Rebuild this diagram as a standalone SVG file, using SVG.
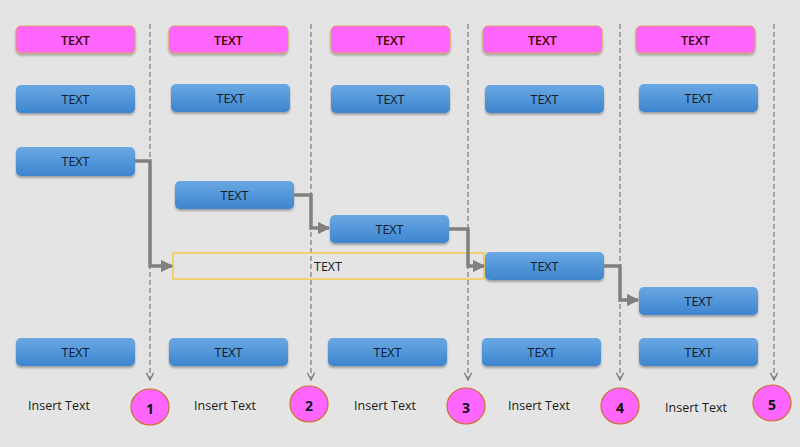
<svg xmlns="http://www.w3.org/2000/svg" width="800" height="447" viewBox="0 0 800 447">
<defs>
<linearGradient id="blue" x1="0" y1="0" x2="0" y2="1">
<stop offset="0" stop-color="#6aa8e2"/>
<stop offset="1" stop-color="#3d85cf"/>
</linearGradient>
<filter id="sh" x="-10%" y="-20%" width="120%" height="160%">
<feDropShadow dx="0" dy="2" stdDeviation="1.2" flood-color="#000" flood-opacity="0.3"/>
</filter>
<marker id="arr" viewBox="0 0 10 10" refX="9" refY="5" markerWidth="3.6" markerHeight="3.6" orient="auto" markerUnits="strokeWidth">
<path d="M0,0 L10,5 L0,10 z" fill="#808080"/>
</marker>
<marker id="darr" viewBox="0 0 10 10" refX="9" refY="5" markerWidth="9" markerHeight="9" orient="auto" markerUnits="userSpaceOnUse">
<path d="M1,1 L9,5 L1,9" fill="none" stroke="#808080" stroke-width="1.6"/>
</marker>
<style>
.b rect{fill:url(#blue);filter:url(#sh)}
.m rect{fill:#ff66ff;stroke:#d9a060;stroke-width:1;filter:url(#sh)}
text{font-family:"Open Sans","Liberation Sans",sans-serif;text-anchor:middle;dominant-baseline:central}
.b text{font-size:12.5px;fill:#0e1a2c}
.m text{font-size:12.5px;fill:#3a0000;font-weight:600}
.lbl{font-size:12.5px;fill:#1a1a1a}
.c ellipse{fill:#ff66ff;stroke:#c8702c;stroke-width:1.2}
.c text{font-size:14px;font-weight:bold;fill:#111}
.dash{stroke:#8a8a8a;stroke-width:1.4;stroke-dasharray:5,3;fill:none}
.con{stroke:#808080;stroke-width:3.5;fill:none;stroke-linejoin:miter}
</style>
</defs>
<rect width="800" height="447" fill="#e4e4e4"/>

<g id="dividers">
<path class="dash" d="M150,24 V380" marker-end="url(#darr)"/>
<path class="dash" d="M311,24 V380" marker-end="url(#darr)"/>
<path class="dash" d="M468,24 V380" marker-end="url(#darr)"/>
<path class="dash" d="M620,24 V380" marker-end="url(#darr)"/>
<path class="dash" d="M774,24 V380" marker-end="url(#darr)"/>
</g>

<g id="m1" class="m"><rect x="16" y="26" width="119" height="27" rx="5"/><text x="75.5" y="40">TEXT</text></g>
<g id="m2" class="m"><rect x="169" y="26" width="119" height="27" rx="5"/><text x="228.5" y="40">TEXT</text></g>
<g id="m3" class="m"><rect x="331" y="26" width="119" height="27" rx="5"/><text x="390.5" y="40">TEXT</text></g>
<g id="m4" class="m"><rect x="483" y="26" width="119" height="27" rx="5"/><text x="542.5" y="40">TEXT</text></g>
<g id="m5" class="m"><rect x="636" y="26" width="119" height="27" rx="5"/><text x="695.5" y="40">TEXT</text></g>

<g id="r2a" class="b"><rect x="16" y="85" width="119" height="28" rx="5"/><text x="75.5" y="99">TEXT</text></g>
<g id="r2b" class="b"><rect x="171" y="84" width="119" height="28" rx="5"/><text x="230.5" y="98">TEXT</text></g>
<g id="r2c" class="b"><rect x="331" y="85" width="119" height="28" rx="5"/><text x="390.5" y="99">TEXT</text></g>
<g id="r2d" class="b"><rect x="485" y="85" width="119" height="28" rx="5"/><text x="544.5" y="99">TEXT</text></g>
<g id="r2e" class="b"><rect x="639" y="84" width="119" height="28" rx="5"/><text x="698.5" y="98">TEXT</text></g>

<g id="s1" class="b"><rect x="16" y="147" width="119" height="29" rx="5"/><text x="75.5" y="161">TEXT</text></g>
<g id="s2" class="b"><rect x="175" y="181" width="119" height="28" rx="5"/><text x="234.5" y="195">TEXT</text></g>
<g id="s3" class="b"><rect x="330" y="215" width="119" height="28" rx="5"/><text x="389.5" y="229">TEXT</text></g>
<g id="s4" class="b"><rect x="485" y="252" width="119" height="28" rx="5"/><text x="544.5" y="266">TEXT</text></g>
<g id="s5" class="b"><rect x="639" y="287" width="119" height="28" rx="5"/><text x="698.5" y="301">TEXT</text></g>

<g id="ybox"><rect x="173" y="253" width="311" height="26" fill="none" stroke="#f5c830" stroke-width="1.3"/><text x="328" y="266" style="font-size:12.5px;fill:#1a1a1a">TEXT</text></g>

<g id="r4a" class="b"><rect x="16" y="338" width="119" height="28" rx="5"/><text x="75.5" y="352">TEXT</text></g>
<g id="r4b" class="b"><rect x="169" y="338" width="119" height="28" rx="5"/><text x="228.5" y="352">TEXT</text></g>
<g id="r4c" class="b"><rect x="328" y="338" width="119" height="28" rx="5"/><text x="387.5" y="352">TEXT</text></g>
<g id="r4d" class="b"><rect x="482" y="338" width="119" height="28" rx="5"/><text x="541.5" y="352">TEXT</text></g>
<g id="r4e" class="b"><rect x="639" y="338" width="119" height="28" rx="5"/><text x="698.5" y="352">TEXT</text></g>

<g id="connectors">
<path class="con" d="M135,161 H150 V266 H172" marker-end="url(#arr)"/>
<path class="con" d="M294,195 H311 V228 H329" marker-end="url(#arr)"/>
<path class="con" d="M449,229 H468 V266 H484" marker-end="url(#arr)"/>
<path class="con" d="M604,266 H620 V300 H638" marker-end="url(#arr)"/>
</g>

<g id="c1" class="c"><ellipse cx="150" cy="407" rx="19" ry="18"/><text x="150" y="408">1</text></g>
<g id="c2" class="c"><ellipse cx="309" cy="404" rx="19" ry="18"/><text x="309" y="405">2</text></g>
<g id="c3" class="c"><ellipse cx="466" cy="406" rx="19" ry="18"/><text x="466" y="407">3</text></g>
<g id="c4" class="c"><ellipse cx="620" cy="406" rx="19" ry="18"/><text x="620" y="407">4</text></g>
<g id="c5" class="c"><ellipse cx="772" cy="403" rx="19" ry="18"/><text x="772" y="404">5</text></g>

<g id="labels">
<text class="lbl" x="59" y="405">Insert Text</text>
<text class="lbl" x="225" y="405">Insert Text</text>
<text class="lbl" x="385" y="405">Insert Text</text>
<text class="lbl" x="539" y="405">Insert Text</text>
<text class="lbl" x="696" y="407">Insert Text</text>
</g>
</svg>
